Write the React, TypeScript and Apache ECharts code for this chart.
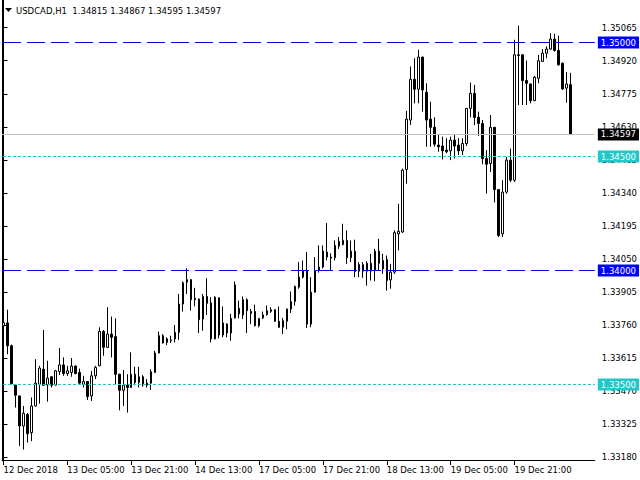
import React, { useEffect, useRef } from "react";
import * as echarts from "echarts";

const symbolTitle = "USDCAD,H1  1.34815 1.34867 1.34595 1.34597";

const opens = [
  1.33758, 1.3377, 1.3367, 1.33498, 1.3345, 1.33318, 1.33369, 1.33289, 1.33406, 1.33501,
  1.33567, 1.33498, 1.33534, 1.33498, 1.33557, 1.33586, 1.33548, 1.33553, 1.33581, 1.33553,
  1.33501, 1.33513, 1.3345, 1.33538, 1.33582, 1.33733, 1.33663, 1.33721, 1.3371, 1.33545,
  1.33475, 1.33497, 1.33487, 1.33545, 1.33509, 1.33534, 1.33497, 1.33506, 1.33553, 1.33638,
  1.33714, 1.33685, 1.33692, 1.337, 1.33729, 1.33853, 1.33949, 1.3396, 1.33878, 1.33875,
  1.33787, 1.33886, 1.33858, 1.337, 1.3388, 1.33717, 1.33765, 1.33726, 1.33792, 1.33834,
  1.33805, 1.33872, 1.3382, 1.3382, 1.33758, 1.33792, 1.33806, 1.33821, 1.33828, 1.33777,
  1.33751, 1.33777, 1.33831, 1.33864, 1.33927, 1.33971, 1.34, 1.33765, 1.33905, 1.34,
  1.34015, 1.34081, 1.34054, 1.34056, 1.34107, 1.34114, 1.34132, 1.34056, 1.34084, 1.34026,
  1.33997, 1.33997, 1.33997, 1.34003, 1.34085, 1.34007, 1.34048, 1.33959, 1.33993, 1.34161,
  1.34169, 1.34443, 1.3466, 1.34839, 1.34795, 1.34936, 1.34782, 1.34664, 1.34628, 1.3455,
  1.34546, 1.34528, 1.34525, 1.34572, 1.3455, 1.34525, 1.34557, 1.34711, 1.34777, 1.34672,
  1.34645, 1.34491, 1.34469, 1.34628, 1.34355, 1.34161, 1.34344, 1.34484, 1.34396, 1.34946,
  1.34946, 1.34833, 1.34818, 1.34745, 1.34843, 1.34917, 1.34953, 1.34971, 1.35015, 1.34965,
  1.34909, 1.348, 1.34815,
];

const closes = [
  1.33771, 1.3367, 1.33504, 1.33453, 1.33318, 1.33374, 1.33284, 1.33406, 1.33506, 1.33572,
  1.33497, 1.33528, 1.33497, 1.3356, 1.33586, 1.33548, 1.3356, 1.33581, 1.33548, 1.33506,
  1.33513, 1.33447, 1.33538, 1.33575, 1.33733, 1.33663, 1.33721, 1.33707, 1.33545, 1.33475,
  1.33497, 1.33487, 1.33545, 1.33509, 1.33534, 1.33498, 1.33506, 1.33556, 1.33638, 1.33714,
  1.33682, 1.337, 1.33696, 1.33729, 1.33853, 1.33946, 1.3396, 1.33872, 1.33872, 1.33784,
  1.33886, 1.33856, 1.337, 1.33883, 1.33717, 1.3377, 1.33726, 1.3379, 1.33937, 1.3381,
  1.33872, 1.33824, 1.33812, 1.33758, 1.3379, 1.33805, 1.33824, 1.33828, 1.33777, 1.33751,
  1.3378, 1.33831, 1.33864, 1.3393, 1.33971, 1.34, 1.33765, 1.33905, 1.34, 1.34015,
  1.34085, 1.34059, 1.34059, 1.3411, 1.34128, 1.34132, 1.34056, 1.34085, 1.33996, 1.33997,
  1.34026, 1.34032, 1.34032, 1.34085, 1.34032, 1.34044, 1.33956, 1.33993, 1.34166, 1.34172,
  1.3444, 1.34664, 1.34839, 1.34795, 1.34936, 1.34792, 1.3466, 1.34628, 1.34554, 1.34543,
  1.34525, 1.34521, 1.34572, 1.34546, 1.34525, 1.34557, 1.34711, 1.34777, 1.34671, 1.34645,
  1.34491, 1.34466, 1.34628, 1.34355, 1.34154, 1.34344, 1.34484, 1.34396, 1.34946, 1.34943,
  1.34833, 1.34821, 1.34745, 1.34848, 1.3492, 1.34953, 1.34971, 1.35015, 1.34965, 1.34902,
  1.34796, 1.34818, 1.34597,
];

const highs = [
  1.33824, 1.33828, 1.33675, 1.33501, 1.33452, 1.33406, 1.33375, 1.33443, 1.33611, 1.33582,
  1.33739, 1.33604, 1.33536, 1.33564, 1.3366, 1.33619, 1.33582, 1.33616, 1.33583, 1.3357,
  1.33538, 1.33515, 1.3356, 1.33582, 1.33751, 1.33739, 1.33839, 1.33798, 1.3379, 1.33547,
  1.33563, 1.33545, 1.33641, 1.33578, 1.33578, 1.33541, 1.33524, 1.33567, 1.33648, 1.33732,
  1.33721, 1.33707, 1.33714, 1.33761, 1.33897, 1.33952, 1.3401, 1.33962, 1.33924, 1.33877,
  1.33897, 1.33966, 1.33883, 1.33887, 1.33882, 1.33842, 1.33768, 1.3381, 1.33952, 1.33868,
  1.33886, 1.33878, 1.33831, 1.3385, 1.33792, 1.3382, 1.33846, 1.33839, 1.3383, 1.33842,
  1.33792, 1.33833, 1.33908, 1.33934, 1.34037, 1.34044, 1.34081, 1.33971, 1.34059, 1.3411,
  1.3411, 1.34208, 1.34075, 1.34132, 1.34147, 1.34205, 1.34176, 1.34132, 1.34135, 1.34037,
  1.34037, 1.34041, 1.34073, 1.34095, 1.34139, 1.34073, 1.34066, 1.34029, 1.34176, 1.34293,
  1.34447, 1.347, 1.34895, 1.34931, 1.34968, 1.34938, 1.34821, 1.3474, 1.34672, 1.34594,
  1.34587, 1.3458, 1.34587, 1.34594, 1.3458, 1.3458, 1.34713, 1.34824, 1.34814, 1.34697,
  1.3466, 1.34528, 1.34682, 1.3463, 1.34357, 1.34396, 1.34498, 1.34535, 1.35012, 1.35074,
  1.34948, 1.34921, 1.3482, 1.34854, 1.34946, 1.34971, 1.34983, 1.35041, 1.35038, 1.3503,
  1.34912, 1.3487, 1.34867,
];

const lows = [
  1.33714, 1.33633, 1.33501, 1.33399, 1.3323, 1.33215, 1.33245, 1.33252, 1.33404, 1.33416,
  1.33495, 1.33425, 1.33487, 1.33496, 1.33542, 1.33538, 1.33538, 1.33534, 1.33545, 1.33501,
  1.33487, 1.33432, 1.33428, 1.33524, 1.3358, 1.33626, 1.3366, 1.33619, 1.33501, 1.33387,
  1.33406, 1.33377, 1.33485, 1.33497, 1.33487, 1.3349, 1.33487, 1.33476, 1.33551, 1.33636,
  1.3368, 1.33673, 1.33682, 1.33685, 1.33696, 1.3382, 1.33897, 1.33824, 1.33843, 1.33726,
  1.33736, 1.33805, 1.33685, 1.33698, 1.33702, 1.33707, 1.33707, 1.33692, 1.3379, 1.3379,
  1.33787, 1.33726, 1.33765, 1.33755, 1.33751, 1.33787, 1.33802, 1.33814, 1.33776, 1.33749,
  1.33721, 1.33743, 1.33814, 1.33846, 1.3392, 1.33965, 1.33748, 1.33751, 1.33903, 1.33991,
  1.34009, 1.34044, 1.34, 1.34044, 1.34095, 1.3411, 1.34029, 1.34037, 1.33971, 1.33971,
  1.33968, 1.33934, 1.33956, 1.33953, 1.34, 1.33985, 1.33912, 1.3392, 1.33985, 1.34088,
  1.34165, 1.34381, 1.34638, 1.34733, 1.34733, 1.34697, 1.34543, 1.34543, 1.34543, 1.34521,
  1.34487, 1.34514, 1.34484, 1.34491, 1.34506, 1.34506, 1.34546, 1.34672, 1.34638, 1.3459,
  1.34466, 1.34337, 1.34432, 1.34299, 1.34147, 1.34147, 1.34337, 1.34388, 1.34388, 1.34726,
  1.34726, 1.34726, 1.34733, 1.34743, 1.34821, 1.34915, 1.34931, 1.34969, 1.3496, 1.34898,
  1.34792, 1.34736, 1.34595,
];

const priceTicks = [
  1.35065, 1.3492, 1.34775, 1.3463, 1.34485, 1.3434, 1.34195, 1.3405, 1.33905, 1.3376,
  1.33615, 1.3347, 1.33325, 1.3318,
];

const timeTickBars = [0, 16, 32, 48, 64, 80, 96, 112, 128];
const timeTickLabels = [
  "12 Dec 2018", "13 Dec 05:00", "13 Dec 21:00", "14 Dec 13:00", "17 Dec 05:00",
  "17 Dec 21:00", "18 Dec 13:00", "19 Dec 05:00", "19 Dec 21:00",
];

const levelBlue = [1.35, 1.34];
const levelCyan = [1.345, 1.335];
const currentPrice = 1.34597;

const FONT = "DejaVu Sans";
const FS = 8.5;

export default function App() {
  const ref = useRef<HTMLDivElement>(null);
  useEffect(() => {
    if (!ref.current) return;
    const chart = echarts.init(ref.current, undefined, { renderer: "svg" });
    const rows = opens.map((o, i) => [i, o, closes[i], lows[i], highs[i]]);

    const priceLabel = (txt: string, bg: string) => ({
      show: true,
      position: "end",
      formatter: txt,
      distance: 3,
      color: "#fff",
      backgroundColor: bg,
      padding: [2, 3, 1, 3],
      fontFamily: FONT,
      fontSize: FS,
    });

    const levelSeries = (value: number, color: string, type: any, bg: string, z: number) => ({
      type: "line",
      data: [],
      yAxisIndex: 0,
      silent: true,
      z,
      markLine: {
        silent: true,
        symbol: "none",
        animation: false,
        precision: 5,
        data: [
          {
            yAxis: value,
            lineStyle: { color, type, width: 1, dashOffset: -1 },
            label: priceLabel(value.toFixed(5), bg),
          },
        ],
      },
    });

    const yMin = 1.331689;
    const yMax = 1.351864;

    chart.setOption({
      animation: false,
      backgroundColor: "#ffffff",
      textStyle: { fontFamily: FONT },
      grid: { left: 2, right: 44, top: 0, bottom: 20, containLabel: false },
      xAxis: {
        type: "value",
        min: -0.375,
        max: 148.125,
        splitLine: { show: false },
        axisLine: { show: true, lineStyle: { color: "#000", width: 1 } },
        axisTick: {
          show: true,
          length: 5,
          customValues: timeTickBars,
          lineStyle: { color: "#000" },
        },
        axisLabel: {
          show: true,
          customValues: timeTickBars,
          formatter: (v: number) => timeTickLabels[timeTickBars.indexOf(Math.round(v))] || "",
          align: "left",
          margin: 5,
          color: "#000",
          fontFamily: FONT,
          fontSize: FS,
        },
      },
      yAxis: [
        {
          type: "value",
          position: "right",
          min: yMin,
          max: yMax,
          scale: true,
          splitLine: { show: false },
          axisLine: { show: true, lineStyle: { color: "#000", width: 1 } },
          axisTick: {
            show: true,
            length: 4,
            customValues: priceTicks,
            lineStyle: { color: "#000" },
          },
          axisLabel: {
            show: true,
            customValues: priceTicks,
            formatter: (v: number) => v.toFixed(5),
            margin: 7,
            color: "#000",
            fontFamily: FONT,
            fontSize: FS,
          },
        },
        {
          type: "value",
          position: "left",
          min: yMin,
          max: yMax,
          scale: true,
          splitLine: { show: false },
          axisLine: { show: true, lineStyle: { color: "#000", width: 1 } },
          axisTick: { show: false },
          axisLabel: { show: false },
        },
      ],
      graphic: [
        {
          type: "polygon",
          shape: { points: [[5, 8], [12, 8], [8.5, 12]] },
          style: { fill: "#000" },
        },
        {
          type: "text",
          x: 16,
          y: 10.5,
          style: {
            text: symbolTitle,
            fill: "#000",
            font: `${FS}px "${FONT}"`,
            verticalAlign: "middle",
          },
        },
      ],
      series: [
        {
          type: "candlestick",
          data: rows,
          encode: { x: 0, y: [1, 2, 3, 4] },
          barWidth: 2,
          z: 2,
          itemStyle: {
            color: "#ffffff",
            color0: "#000000",
            borderColor: "#000000",
            borderColor0: "#000000",
            borderWidth: 1,
          },
        },
        levelSeries(currentPrice, "#c0c0c0", "solid", "#000000", 4),
        ...levelCyan.map((v) => levelSeries(v, "#22c8c8", [3, 2], "#22c8c8", 5)),
        ...levelBlue.map((v) => levelSeries(v, "#0000ff", [18, 6], "#0000ff", 5)),
      ],
    });
    return () => chart.dispose();
  }, []);
  return <div ref={ref} style={{ width: 640, height: 480, position: "fixed", left: 0, top: 0 }} />;
}
